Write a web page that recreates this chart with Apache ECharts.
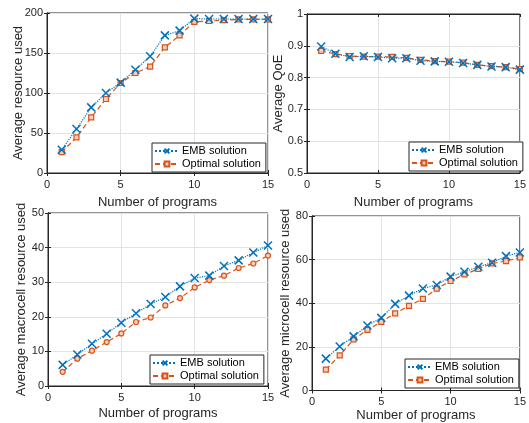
<!DOCTYPE html>
<html>
<head>
<meta charset="utf-8">
<script src="https://cdn.jsdelivr.net/npm/echarts@6/dist/echarts.min.js"></script>
<style>
  html, body { margin: 0; padding: 0; background: #fff; }
  #chart { width: 529px; height: 423px; }
</style>
</head>
<body>
<div id="chart"></div>
<script>
// number of programs (x axis of every panel)
var programs = [1, 2, 3, 4, 5, 6, 7, 8, 9, 10, 11, 12, 13, 14, 15];

// panel 1: average resource used
var resEmb = [29, 55, 82, 100, 113, 129, 146, 172, 178, 193, 192.5, 192.5, 192.5, 192.5, 192.5];
var resOpt = [26, 44.5, 69.5, 92.5, 112.5, 125, 133, 157, 172, 189, 190, 191, 192, 192, 192];

// panel 2: average QoE
var qoeEmb = [0.898, 0.875, 0.865, 0.867, 0.865, 0.861, 0.861, 0.853, 0.851, 0.850, 0.846, 0.840, 0.835, 0.833, 0.825];
var qoeOpt = [0.884, 0.874, 0.868, 0.866, 0.866, 0.865, 0.862, 0.856, 0.852, 0.850, 0.847, 0.840, 0.836, 0.833, 0.827];

// panel 3: average macrocell resource used
var macroEmb = [6.1, 9.1, 12.2, 15.1, 18.3, 21, 23.7, 25.7, 28.8, 31.2, 31.9, 34.7, 36.3, 38.6, 40.6];
var macroOpt = [4.1, 7.9, 10.2, 12.7, 15.2, 18.5, 19.8, 23.3, 25.4, 28.5, 30.6, 31.9, 34.1, 35.4, 37.7];

// panel 4: average microcell resource used
var microEmb = [14.6, 20.2, 24.8, 29.8, 33.3, 39.7, 43.5, 46.8, 48.4, 52.2, 54.4, 56.7, 58.6, 61.6, 63.3];
var microOpt = [9.6, 16.1, 23.4, 27.8, 31.5, 35.4, 38.8, 42, 46.7, 50.2, 53.2, 55.7, 58.3, 59.3, 61];

var xName = 'Number of programs';
var legendNames = ['EMB solution', 'Optimal solution'];

var panels = [
  { box: [47, 13, 221, 160], yName: 'Average resource used', ymin: 0, ymax: 200, step: 50,
    yGap: 22, xGap: 23, emb: resEmb, opt: resOpt, optSym: 'rect', leg: [152, 143] },
  { box: [307, 14, 217, 159], yName: 'Average QoE', ymin: 0.5, ymax: 1, step: 0.1,
    yGap: 22, xGap: 23, emb: qoeEmb, opt: qoeOpt, optSym: 'rect', leg: [409, 142] },
  { box: [48, 213, 220, 173], yName: 'Average macrocell resource used', ymin: 0, ymax: 50, step: 10,
    yGap: 20.5, xGap: 20.5, emb: macroEmb, opt: macroOpt, optSym: 'circle', leg: [150, 355] },
  { box: [312, 216, 212, 175], yName: 'Average microcell resource used', ymin: 0, ymax: 80, step: 20,
    yGap: 20, xGap: 18.5, emb: microEmb, opt: microOpt, optSym: 'rect', leg: [405, 359] }
];

var axisColor = '#262626';
var font = 'Liberation Sans, Arial, Helvetica, sans-serif';
var crossPath = 'path://M0,0 L10,10 M10,0 L0,10';

function pairs(ys) {
  var out = [];
  for (var i = 0; i < programs.length; i++) out.push([programs[i], ys[i]]);
  return out;
}

var grid = [], xAxis = [], yAxis = [], series = [], legend = [];

panels.forEach(function(p, i) {
  grid.push({
    left: p.box[0], top: p.box[1], width: p.box[2], height: p.box[3],
    show: true, borderColor: axisColor, borderWidth: 1, backgroundColor: '#fff'
  });
  // bottom x axis with labels
  xAxis.push({
    type: 'value', gridIndex: i, min: 0, max: 15, interval: 5,
    name: xName, nameLocation: 'middle', nameGap: p.xGap, nameMoveOverlap: false,
    nameTextStyle: { fontFamily: font, fontSize: 13, color: axisColor },
    axisLine: { show: true, lineStyle: { color: axisColor } },
    axisTick: { show: true, inside: true, length: 3, lineStyle: { color: axisColor } },
    axisLabel: { margin: 6, fontFamily: font, fontSize: 11, color: axisColor },
    splitLine: { show: true, lineStyle: { color: '#e3e3e3' } }
  });
  // top x axis, ticks only
  xAxis.push({
    type: 'value', gridIndex: i, min: 0, max: 15, interval: 5, position: 'top',
    axisLine: { show: true, lineStyle: { color: axisColor } },
    axisTick: { show: true, inside: true, length: 3, lineStyle: { color: axisColor } },
    axisLabel: { show: false }, splitLine: { show: false }
  });
  yAxis.push({
    type: 'value', gridIndex: i, min: p.ymin, max: p.ymax, interval: p.step,
    name: p.yName, nameLocation: 'middle', nameGap: p.yGap, nameMoveOverlap: false,
    nameTextStyle: { fontFamily: font, fontSize: 13, color: axisColor },
    axisLine: { show: true, lineStyle: { color: axisColor } },
    axisTick: { show: true, inside: true, length: 3, lineStyle: { color: axisColor } },
    axisLabel: { margin: 4, fontFamily: font, fontSize: 11, color: axisColor,
      formatter: function(v) { return p.step < 1 ? (Math.round(v * 10) / 10).toString() : v; } },
    splitLine: { show: true, lineStyle: { color: '#e3e3e3' } }
  });
  yAxis.push({
    type: 'value', gridIndex: i, min: p.ymin, max: p.ymax, interval: p.step, position: 'right',
    axisLine: { show: true, lineStyle: { color: axisColor } },
    axisTick: { show: true, inside: true, length: 3, lineStyle: { color: axisColor } },
    axisLabel: { show: false }, splitLine: { show: false }
  });

  series.push({
    name: legendNames[0], id: 'emb' + i, type: 'line',
    xAxisIndex: 2 * i, yAxisIndex: 2 * i, data: pairs(p.emb),
    symbol: crossPath, symbolSize: 8, showAllSymbol: true,
    itemStyle: { color: 'rgba(0,0,0,0)', borderColor: '#0072BD', borderWidth: 1.5 },
    lineStyle: { color: '#0072BD', width: 1.2, type: 'dotted' },
    z: 3, animation: false
  });
  series.push({
    name: legendNames[1], id: 'opt' + i, type: 'line',
    xAxisIndex: 2 * i, yAxisIndex: 2 * i, data: pairs(p.opt),
    symbol: p.optSym, symbolSize: 5, showAllSymbol: true,
    itemStyle: { color: '#F6CDB9', borderColor: '#D95319', borderWidth: 1.2 },
    lineStyle: { color: '#D95319', width: 1.2, type: [5, 3] },
    z: 2, animation: false
  });

  legend.push({
    left: p.leg[0], top: p.leg[1], orient: 'vertical',
    data: legendNames.map(function(n) { return { name: n }; }),
    backgroundColor: '#fff', borderColor: axisColor, borderWidth: 1,
    padding: [2, 5, 2, 2], itemGap: 1, itemWidth: 24, itemHeight: 6,
    textStyle: { fontFamily: font, fontSize: 11, lineHeight: 12, color: '#000', padding: [0, 0, 0, -2] },
    selectedMode: false, z: 10
  });
});

var myChart = echarts.init(document.getElementById('chart'));
myChart.setOption({
  animation: false,
  backgroundColor: '#fff',
  grid: grid,
  xAxis: xAxis,
  yAxis: yAxis,
  legend: legend,
  series: series
});
</script>
</body>
</html>
